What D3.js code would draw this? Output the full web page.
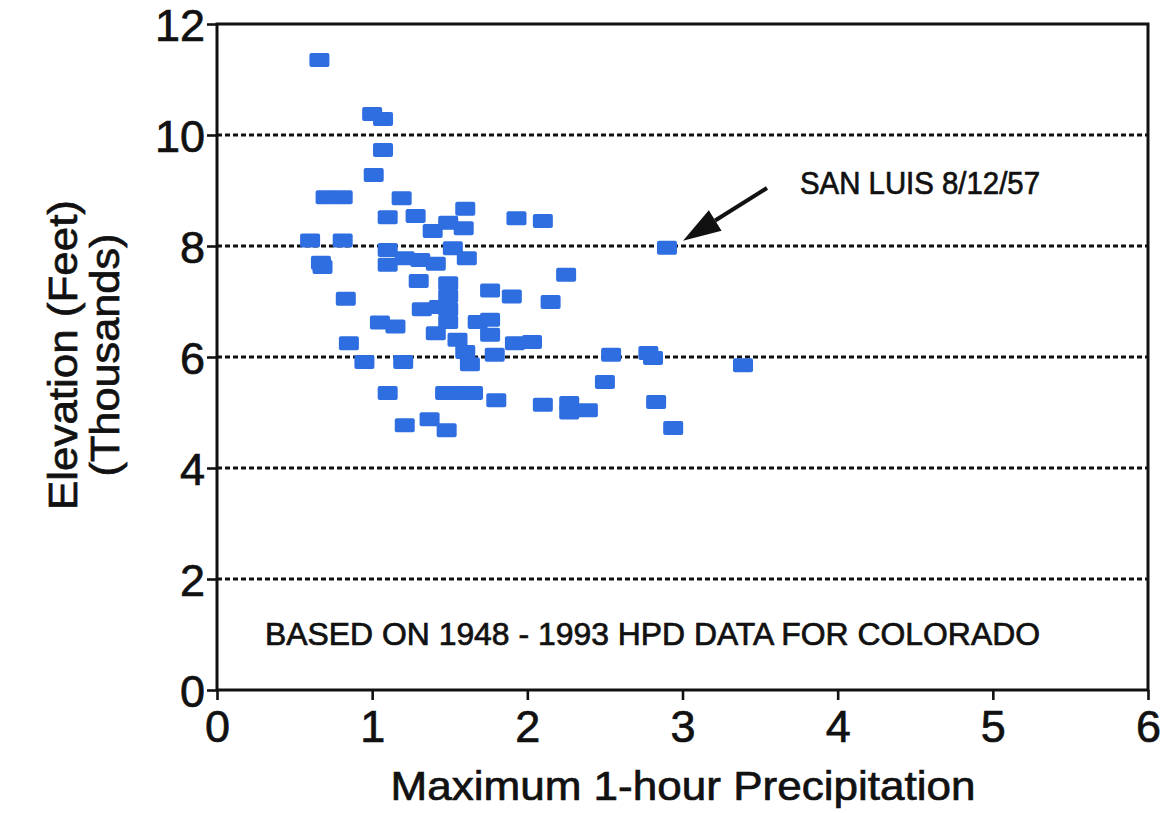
<!DOCTYPE html>
<html>
<head>
<meta charset="utf-8">
<script src="https://cdn.jsdelivr.net/npm/d3@7"></script>
<style>
  html, body { margin: 0; padding: 0; background: #fff; }
  svg { display: block; }
  text { font-family: "Liberation Sans", Arial, Helvetica, sans-serif; fill: #111; stroke: #111; stroke-width: 0.7px; }
</style>
</head>
<body>
<svg id="chart" width="1164" height="813"></svg>
<script>
// Maximum 1-hour precipitation (inches) for each storm record
const precipitation = [
  0.66, 1.00, 1.07, 1.07, 1.01, 0.70, 0.81, 1.19, 1.10, 1.28,
  1.39, 1.49, 1.60, 1.59, 1.93, 2.10, 0.60, 0.81, 0.67, 0.68,
  2.90, 2.25, 0.83, 1.76, 1.90, 2.15, 1.10, 1.10, 1.21, 1.31,
  1.41, 1.52, 1.61, 1.30, 1.49, 1.49, 1.49, 1.49, 1.32, 1.43,
  1.05, 1.15, 0.85, 1.41, 1.55, 1.60, 1.63, 1.68, 1.76, 1.76,
  1.79, 1.92, 2.03, 0.95, 1.20, 2.54, 2.78, 2.81, 3.39, 2.50,
  1.10, 1.47, 1.56, 1.65, 1.80, 2.10, 2.27, 2.27, 2.39, 2.83,
  2.94, 1.21, 1.37, 1.48
];
// Station elevation (thousands of feet), same order
const elevation = [
  11.35, 10.38, 10.29, 9.73, 9.28, 8.88, 8.88, 8.86, 8.52, 8.54,
  8.27, 8.42, 8.67, 8.32, 8.50, 8.45, 8.10, 8.10, 7.70, 7.62,
  7.97, 7.48, 7.05, 7.20, 7.09, 6.99, 7.93, 7.66, 7.78, 7.75,
  7.68, 7.96, 7.78, 7.37, 7.33, 7.10, 6.86, 6.63, 6.86, 6.90,
  6.62, 6.55, 6.25, 6.43, 6.31, 6.09, 5.87, 6.63, 6.67, 6.40,
  6.04, 6.25, 6.27, 5.91, 5.91, 6.04, 6.07, 5.98, 5.85, 5.55,
  5.35, 5.35, 5.35, 5.35, 5.22, 5.14, 5.17, 5.00, 5.04, 5.19,
  4.72, 4.77, 4.88, 4.68
];

const xTicks = [0, 1, 2, 3, 4, 5, 6];
const yTicks = [0, 2, 4, 6, 8, 10, 12];
const gridValues = [2, 4, 6, 8, 10];

const xTitle = "Maximum 1-hour Precipitation";
const yTitleLines = ["Elevation (Feet)", "(Thousands)"];
const noteText = "BASED ON 1948 - 1993 HPD DATA FOR COLORADO";
const callout = { label: "SAN LUIS  8/12/57", x: 2.90, y: 7.97 };

const svg = d3.select("#chart");
const margin = { left: 217, right: 16, top: 24, bottom: 123 };
const W = 1164, H = 813;

const x = d3.scaleLinear().domain([0, 6]).range([margin.left, W - margin.right]);
const y = d3.scaleLinear().domain([0, 12]).range([H - margin.bottom, margin.top]);

// dotted horizontal grid lines
svg.append("g")
  .selectAll("line")
  .data(gridValues)
  .join("line")
  .attr("x1", x(0)).attr("x2", x(6))
  .attr("y1", d => y(d)).attr("y2", d => y(d))
  .attr("stroke", "#111")
  .attr("stroke-width", 3.2)
  .attr("stroke-dasharray", "5,3");

// plot frame
svg.append("rect")
  .attr("x", x(0)).attr("y", y(12))
  .attr("width", x(6) - x(0)).attr("height", y(0) - y(12))
  .attr("fill", "none")
  .attr("stroke", "#111")
  .attr("stroke-width", 3);

// axes
const xAxis = d3.axisBottom(x).tickValues(xTicks).tickSize(10).tickPadding(10).tickFormat(d3.format("d"));
const yAxis = d3.axisLeft(y).tickValues(yTicks).tickSize(10).tickPadding(2).tickFormat(d3.format("d"));

const gx = svg.append("g").attr("transform", `translate(0,${y(0)})`).call(xAxis);
const gy = svg.append("g").attr("transform", `translate(${x(0)},0)`).call(yAxis);
[gx, gy].forEach(g => {
  g.select(".domain").remove();
  g.selectAll(".tick line").attr("stroke", "#111").attr("stroke-width", 2.6);
  g.selectAll(".tick text")
    .attr("fill", "#111")
    .style("font-size", "45px")
    .style("font-family", "'Liberation Sans', Arial, sans-serif");
});
gx.selectAll(".tick text").attr("dy", "0.72em");
gy.selectAll(".tick text").attr("dy", "0.36em");

// markers
const mw = 20, mh = 14;
svg.append("g")
  .selectAll("rect")
  .data(d3.range(precipitation.length))
  .join("rect")
  .attr("x", i => x(precipitation[i]) - mw / 2)
  .attr("y", i => y(elevation[i]) - mh / 2)
  .attr("width", mw)
  .attr("height", mh)
  .attr("rx", 2)
  .attr("fill", "#2e6ee0");

// axis titles
svg.append("text")
  .attr("x", 683).attr("y", 800)
  .attr("text-anchor", "middle")
  .attr("textLength", 585)
  .attr("lengthAdjust", "spacingAndGlyphs")
  .style("font-size", "41px")
  .text(xTitle);

const yTitleSpecs = [
  { cx: 77, len: 310, size: 40 },
  { cx: 119, len: 243, size: 40 }
];
yTitleLines.forEach((line, i) => {
  const s = yTitleSpecs[i];
  svg.append("text")
    .attr("transform", `translate(${s.cx},355) rotate(-90)`)
    .attr("text-anchor", "middle")
    .attr("textLength", s.len)
    .attr("lengthAdjust", "spacingAndGlyphs")
    .style("font-size", s.size + "px")
    .text(line);
});

// note inside the plot
svg.append("text")
  .attr("x", 265).attr("y", 645)
  .attr("textLength", 775)
  .attr("lengthAdjust", "spacingAndGlyphs")
  .style("font-size", "31px")
  .text(noteText);

// callout label and arrow
svg.append("text")
  .attr("x", 800).attr("y", 194)
  .attr("textLength", 240)
  .attr("lengthAdjust", "spacingAndGlyphs")
  .style("font-size", "31px")
  .text(callout.label);

const tipX = x(callout.x) + 16, tipY = y(callout.y) - 7;
const tailX = 767, tailY = 188;
const ang = Math.atan2(tailY - tipY, tailX - tipX);
const headLen = 38, headHalf = 12;
const bx = tipX + headLen * Math.cos(ang), by = tipY + headLen * Math.sin(ang);
svg.append("line")
  .attr("x1", tailX).attr("y1", tailY)
  .attr("x2", bx).attr("y2", by)
  .attr("stroke", "#111").attr("stroke-width", 4);
svg.append("path")
  .attr("d", d3.line()([
    [tipX, tipY],
    [bx + headHalf * Math.sin(ang), by - headHalf * Math.cos(ang)],
    [bx - headHalf * Math.sin(ang), by + headHalf * Math.cos(ang)]
  ]) + "Z")
  .attr("fill", "#111");
</script>
</body>
</html>
